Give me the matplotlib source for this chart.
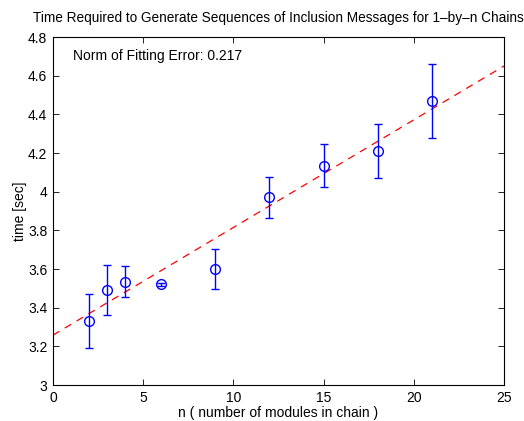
import numpy as np
import matplotlib
matplotlib.use('Agg')
import matplotlib.pyplot as plt

plt.rcParams['font.family'] = ['Liberation Sans', 'DejaVu Sans']

# measured data
n_modules = [2, 3, 4, 6, 9, 12, 15, 18, 21]
time_sec = [3.33, 3.49, 3.535, 3.52, 3.60, 3.97, 4.135, 4.21, 4.47]
time_err = [0.14, 0.13, 0.08, 0.006, 0.105, 0.107, 0.11, 0.14, 0.19]

# linear fit
fit_x = [0, 25]
fit_slope = 0.0557
fit_intercept = 3.258

xticks = [0, 5, 10, 15, 20, 25]
yticks = [3, 3.2, 3.4, 3.6, 3.8, 4, 4.2, 4.4, 4.6, 4.8]
yticklabels = ['3', '3.2', '3.4', '3.6', '3.8', '4', '4.2', '4.4', '4.6', '4.8']

fig = plt.figure(figsize=(5.24, 4.21), dpi=100)
ax = fig.add_axes([0.101, 0.0855, 0.861, 0.8265])

fx = np.array(fit_x, dtype=float)
ax.plot(fx, fit_intercept + fit_slope * fx, '--', color='red', lw=0.9, dashes=(6, 5))
ax.errorbar(n_modules, time_sec, yerr=time_err, fmt='o', color='blue', mfc='none',
            ms=7, mew=1.0, elinewidth=1.0, capsize=3, capthick=1.0)

ax.text(1.1, 4.70, 'Norm of Fitting Error: 0.217', fontsize=10, va='center')

ax.set_xlim(0, 25)
ax.set_ylim(3, 4.8)
ax.set_xticks(xticks)
ax.set_yticks(yticks)
ax.set_yticklabels(yticklabels)
ax.tick_params(direction='in', top=True, right=True, labelsize=10, length=4, width=0.6, pad=4)
for s in ax.spines.values():
    s.set_linewidth(0.8)

ax.set_xlabel('n ( number of modules in chain )', fontsize=10, labelpad=1)
ax.set_ylabel('time [sec]', fontsize=10, labelpad=1)
ax.set_title('Time Required to Generate Sequences of Inclusion Messages for 1\u2013by\u2013n Chains',
             fontsize=9.8, pad=11)

fig.savefig('out.png', dpi=100)
